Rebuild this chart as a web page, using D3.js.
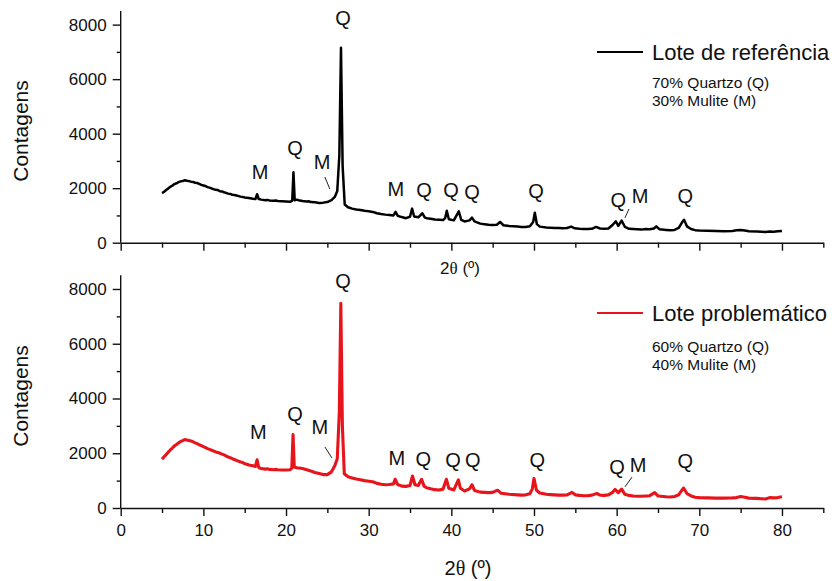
<!DOCTYPE html>
<html>
<head>
<meta charset="utf-8">
<script src="https://cdn.jsdelivr.net/npm/d3@7/dist/d3.min.js"></script>
<style>
  html, body { margin: 0; padding: 0; background: #fff; }
  svg { display: block; font-family: "Liberation Sans", Arial, sans-serif; }
</style>
</head>
<body>
<svg id="chart" width="840" height="581"></svg>
<script>
// X-ray diffraction scans: [2θ in degrees, counts]
const referenceScan = [
  [5.0,1820],[5.25,1870],[5.5,1930],[5.75,1990],[6.0,2050],[6.25,2090],[6.5,2150],[6.75,2180],[7.0,2220],[7.25,2250],[7.5,2260],[7.75,2290],[8.0,2270],[8.25,2260],[8.5,2240],
  [8.75,2230],[9.0,2200],[9.25,2190],[9.5,2160],[9.75,2120],[10.0,2100],[10.25,2080],[10.5,2040],[10.75,2020],[11.0,1990],[11.5,1940],[11.75,1930],[12.0,1890],[12.25,1880],[12.5,1850],
  [13.0,1800],[13.25,1790],[13.5,1760],[13.75,1750],[14.0,1730],[14.5,1690],[14.75,1680],[15.0,1660],[15.25,1650],[15.5,1640],[16.0,1610],[16.3,1600],
  [16.5,1780],[16.7,1600],[17.0,1580],[17.5,1560],[17.75,1570],[18.0,1550],[18.5,1540],[18.75,1550],[19.0,1530],[19.5,1520],
  [20.0,1510],[20.5,1500],[20.75,1540],[20.9,2580],[21.05,1560],[21.3,1580],[21.5,1560],[22.0,1530],
  [22.5,1510],[22.75,1520],[23.0,1490],[23.5,1480],[24.0,1460],[24.5,1470],[25.0,1490],[25.5,1560],[25.9,1680],
  [26.2,1900],[26.45,3200],[26.65,7150],[26.85,2800],[27.1,1400],[27.5,1300],[28.0,1250],[28.5,1220],
  [29.0,1200],[29.5,1170],[30.0,1150],[30.5,1130],[31.0,1080],[31.5,1050],[32.0,1030],[32.5,1020],
  [33.0,1000],[33.25,1130],[33.5,990],[34.0,940],[34.5,900],[35.0,950],[35.25,1250],[35.5,960],
  [36.0,930],[36.5,1080],[36.8,920],[37.0,900],[37.5,880],[38.0,850],[38.5,840],[39.0,830],
  [39.25,900],[39.45,1170],[39.7,860],[40.3,820],[40.9,1150],[41.2,840],[41.6,780],[42.2,820],
  [42.5,920],[42.8,780],[43.5,700],[44.0,680],[44.5,660],[45.0,650],[45.5,660],[45.9,760],
  [46.3,640],[47.0,610],[47.5,600],[48.0,590],[48.5,580],[49.0,580],[49.5,600],[49.9,760],
  [50.1,1100],[50.35,680],[50.7,590],[51.5,560],[52.0,550],[52.5,540],[53.0,540],[53.5,530],
  [54.0,540],[54.5,590],[54.9,530],[55.5,510],[56.0,500],[56.5,500],[57.0,510],[57.5,580],
  [58.0,520],[58.5,510],[59.0,520],[59.5,650],[59.9,780],[60.2,620],[60.6,810],[61.0,580],
  [61.5,510],[62.0,500],[62.5,490],[63.0,480],[63.5,500],[64.0,490],[64.5,520],[64.8,600],
  [65.2,490],[66.0,470],[66.5,460],[67.0,470],[67.5,540],[67.9,740],[68.15,840],[68.5,600],
  [69.0,500],[69.5,460],[70.0,450],[71.0,440],[72.0,430],[73.0,420],[74.0,430],[74.5,460],
  [75.0,470],[75.5,450],[76.0,420],[77.0,410],[77.5,400],[78.0,390],[78.5,410],[79.0,400],
  [79.5,420],[80.0,430]
];

const problemScan = [
  [5.0,1780],[5.25,1870],[5.5,1950],[5.75,2040],[6.0,2120],[6.25,2190],[6.5,2270],[6.75,2320],[7.0,2380],[7.25,2430],[7.5,2460],[7.75,2500],[8.0,2480],[8.25,2470],[8.5,2450],
  [8.75,2420],[9.0,2380],[9.25,2350],[9.5,2310],[9.75,2280],[10.0,2240],[10.25,2210],[10.5,2170],[10.75,2140],[11.0,2110],[11.5,2050],[11.75,2030],[12.0,2000],[12.25,1970],[12.5,1940],
  [13.0,1860],[13.25,1840],[13.5,1800],[13.75,1770],[14.0,1740],[14.5,1680],[14.75,1660],[15.0,1620],[15.25,1600],[15.5,1570],[16.0,1540],[16.3,1520],
  [16.5,1760],[16.7,1480],[17.0,1440],[17.5,1420],[17.75,1430],[18.0,1410],[18.5,1400],[18.75,1410],[19.0,1400],[19.5,1390],
  [20.0,1390],[20.5,1400],[20.7,1450],[20.85,2680],[21.0,1500],[21.3,1470],[22.0,1440],[22.5,1400],
  [23.0,1350],[23.5,1300],[24.0,1260],[24.5,1220],[25.0,1220],[25.5,1320],[25.9,1540],[26.2,1800],
  [26.45,3500],[26.63,7480],[26.82,3000],[27.05,1250],[27.5,1140],[28.0,1100],[28.5,1060],[29.0,1030],
  [29.5,1000],[30.0,980],[30.5,960],[31.0,900],[31.5,870],[32.0,850],[32.5,860],[33.0,880],
  [33.2,1050],[33.5,860],[34.0,800],[34.5,790],[35.0,820],[35.3,1170],[35.6,850],[36.0,820],
  [36.4,1050],[36.7,800],[37.0,740],[37.5,700],[38.0,670],[38.5,660],[39.0,690],[39.4,1050],
  [39.7,720],[40.3,660],[40.85,1030],[41.1,720],[41.6,620],[42.2,700],[42.5,850],[42.8,640],
  [43.5,580],[44.0,570],[44.5,560],[45.0,570],[45.6,650],[46.0,540],[46.5,520],[47.0,500],
  [48.0,480],[48.5,470],[49.0,480],[49.5,520],[49.8,700],[50.0,1080],[50.3,650],[50.7,550],
  [51.5,500],[52.0,490],[52.5,480],[53.0,470],[53.5,470],[54.0,480],[54.6,570],[55.0,480],
  [55.5,460],[56.0,450],[56.5,450],[57.0,470],[57.6,530],[58.0,470],[58.5,460],[59.0,480],
  [59.5,570],[59.8,680],[60.2,560],[60.6,690],[61.0,500],[61.5,460],[62.0,440],[62.5,430],
  [63.0,430],[63.5,440],[64.0,450],[64.6,560],[65.0,440],[66.0,410],[66.5,400],[67.0,420],
  [67.5,480],[67.9,650],[68.1,730],[68.5,530],[69.0,440],[69.5,390],[70.0,380],[71.0,370],
  [72.0,360],[73.0,360],[74.0,370],[74.5,380],[75.0,420],[75.5,390],[76.0,360],[77.0,350],
  [77.5,340],[78.0,330],[78.5,380],[79.0,370],[79.5,380],[80.0,410]
];

// Phase labels: [text, 2θ, counts at label baseline]
const referencePeaks = [
  ["Q",26.9,7990],["M",16.85,2340],["Q",21.1,3220],["M",24.35,2700],["M",33.3,1710],
  ["Q",36.7,1680],["Q",39.95,1680],["Q",42.5,1600],["Q",50.25,1640],["Q",60.2,1310],
  ["M",62.85,1460],["Q",68.3,1460]
];
const problemPeaks = [
  ["Q",26.9,8040],["M",16.65,2520],["Q",21.09,3180],["M",24.1,2700],["M",33.4,1570],
  ["Q",36.6,1530],["Q",40.2,1500],["Q",42.6,1500],["Q",50.4,1500],["Q",60.05,1240],
  ["M",62.6,1315],["Q",68.3,1460]
];
// Leader lines from label to peak: [2θ1, counts1, 2θ2, counts2]
const referenceLeaders = [[24.7,2410,25.3,1970],[61.5,1240,61.0,910]];
const problemLeaders = [[24.7,2230,25.55,1830],[61.86,1130,61.0,770]];

const seriesNames = ["Lote de referência", "Lote problemático"];
const compositions = [["70% Quartzo (Q)", "30% Mulite (M)"], ["60% Quartzo (Q)", "40% Mulite (M)"]];
const xMajorTicks = [0,10,20,30,40,50,60,70,80];
const xMinorTicks = [5,15,25,35,45,55,65,75,85];
const yMajorTicks = [0,2000,4000,6000,8000];
const yMinorTicks = [1000,3000,5000,7000];

const svg = d3.select("#chart");
const x = d3.scaleLinear().domain([0, 85]).range([120.7, 823.3]);

const panels = [
  { scan: referenceScan, peaks: referencePeaks, leaders: referenceLeaders, color: "#000000", width: 2.5,
    y: d3.scaleLinear().domain([0, 8500]).range([242.7, 11]), xLabels: false,
    xTitle: { x: 460, y: 274, size: 17 }, yTitleY: 131,
    legend: { lineY: 52, textY: 60, subY: [88, 106] } },
  { scan: problemScan, peaks: problemPeaks, leaders: problemLeaders, color: "#e8141b", width: 3.1,
    y: d3.scaleLinear().domain([0, 8500]).range([508, 275.3]), xLabels: true,
    xTitle: { x: 468, y: 575, size: 20 }, yTitleY: 396,
    legend: { lineY: 313, textY: 321, subY: [352, 370] } }
];

panels.forEach((p, i) => {
  const g = svg.append("g");

  // y axis: labelled majors, short minors
  const yAxis = g.append("g").attr("transform", `translate(${x(0)},0)`);
  yAxis.call(d3.axisLeft(p.y).tickValues(yMajorTicks).tickSize(8).tickSizeOuter(0).tickPadding(6)
    .tickFormat(d3.format("d")));
  yAxis.append("g").call(d3.axisLeft(p.y).tickValues(yMinorTicks).tickSize(4).tickFormat(""))
    .select(".domain").remove();
  yAxis.select(".domain").attr("d", `M0,${p.y(0)}V${p.y(8500)}`);

  // x axis
  const xAxis = g.append("g").attr("transform", `translate(0,${p.y(0)})`);
  xAxis.call(d3.axisBottom(x).tickValues(xMajorTicks).tickSize(8).tickSizeOuter(0).tickPadding(8)
    .tickFormat(p.xLabels ? d3.format("d") : ""));
  xAxis.append("g").call(d3.axisBottom(x).tickValues(xMinorTicks).tickSize(5).tickFormat(""))
    .select(".domain").remove();

  g.selectAll(".domain, .tick line").attr("stroke", "#111").attr("stroke-width", 1.4);
  g.selectAll(".tick text").attr("fill", "#111").attr("font-size", 17)
    .attr("font-family", "'Liberation Sans', Arial, sans-serif");

  // axis titles
  g.append("text")
    .attr("transform", `translate(28,${p.yTitleY}) rotate(-90)`)
    .attr("text-anchor", "middle").attr("font-size", 21).attr("fill", "#111")
    .text("Contagens");
  const xt = g.append("text").attr("x", p.xTitle.x).attr("y", p.xTitle.y)
    .attr("text-anchor", "middle").attr("font-size", p.xTitle.size).attr("fill", "#111");
  xt.append("tspan").text("2");
  xt.append("tspan").attr("font-family", "'Liberation Serif', 'Times New Roman', serif").text("θ");
  xt.append("tspan").text(" (º)");

  // diffraction pattern
  const line = d3.line().x(d => x(d[0])).y(d => p.y(d[1]));
  g.append("path").datum(p.scan)
    .attr("fill", "none").attr("stroke", p.color).attr("stroke-width", p.width)
    .attr("stroke-linejoin", "round").attr("d", line);

  // phase labels
  g.selectAll(".peak").data(p.peaks).join("text")
    .attr("class", "peak")
    .attr("x", d => x(d[1])).attr("y", d => p.y(d[2]))
    .attr("text-anchor", "middle").attr("font-size", 20).attr("fill", "#111")
    .text(d => d[0]);
  g.selectAll(".leader").data(p.leaders).join("line")
    .attr("class", "leader")
    .attr("x1", d => x(d[0])).attr("y1", d => p.y(d[1]))
    .attr("x2", d => x(d[2])).attr("y2", d => p.y(d[3]))
    .attr("stroke", "#222").attr("stroke-width", 1);

  // legend
  const lg = g.append("g");
  lg.append("line").attr("x1", 597).attr("x2", 643).attr("y1", p.legend.lineY).attr("y2", p.legend.lineY)
    .attr("stroke", p.color).attr("stroke-width", 2);
  lg.append("text").attr("x", 652).attr("y", p.legend.textY)
    .attr("font-size", 22).attr("fill", "#111").text(seriesNames[i]);
  lg.selectAll(".comp").data(compositions[i]).join("text")
    .attr("class", "comp")
    .attr("x", 652).attr("y", (d, k) => p.legend.subY[k])
    .attr("font-size", 15.5).attr("fill", "#111").text(d => d);
});
</script>
</body>
</html>
